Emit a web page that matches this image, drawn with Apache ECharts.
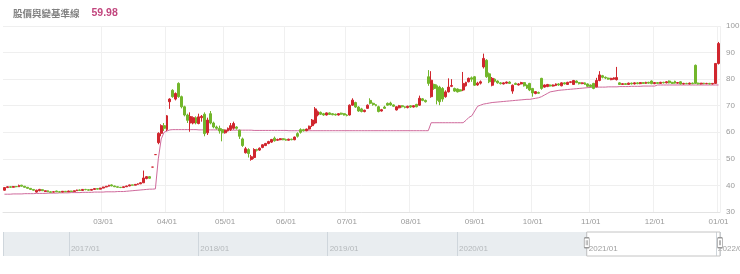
<!DOCTYPE html>
<html><head><meta charset="utf-8">
<script src="https://cdn.jsdelivr.net/npm/echarts@6/dist/echarts.min.js"></script>
<style>html,body{margin:0;padding:0;background:#fff}#c{width:740px;height:274px}</style>
</head><body><div id="c"></div>
<script>
// ---------- text ----------
const titleText = '股價與變基準線';
const titleValue = '59.98';

// ---------- categories (trading days) ----------
const startDate = '2020-12-31';
const endDate = '2022-01-03';
const holidays = ['2021-01-01','2021-02-08','2021-02-09','2021-02-10','2021-02-11','2021-02-12',
  '2021-02-15','2021-02-16','2021-03-01','2021-04-02','2021-04-05','2021-06-14',
  '2021-09-20','2021-09-21','2021-10-11','2021-12-31'];
const tickDates = ['2021-03-02','2021-04-01','2021-05-03','2021-06-01','2021-07-01','2021-08-02',
  '2021-09-01','2021-10-01','2021-11-01','2021-12-01','2022-01-03'];
const tickLabels = ['03/01','04/01','05/01','06/01','07/01','08/01','09/01','10/01','11/01','12/01','01/01'];

// ---------- price candles [open, close, low, high] ----------
const dec20 = [[38.2,39.2,38.0,39.4]];
const jan21 = [[39.2,39.5,39.0,39.7],[39.5,39.3,39.1,39.7],[39.3,39.6,39.2,39.8],[39.6,39.5,39.3,39.8],
  [39.5,40.0,39.4,40.3],[40.1,39.7,39.6,40.2],[39.7,39.3,39.2,39.8],[39.3,38.9,38.8,39.4],[38.9,38.5,38.3,39.0],
  [38.5,38.2,38.0,38.6],[37.5,38.2,37.3,38.4],[38.0,38.5,37.8,38.7],[38.4,38.0,37.9,38.6],[37.7,38.0,37.5,38.1],
  [38.0,37.6,37.5,38.1],[37.6,37.4,37.3,37.8],[37.5,37.6,37.4,37.8],[37.9,37.6,37.5,38.0],[37.6,37.5,37.4,37.8],
  [37.5,37.8,37.4,37.9]];
const feb21 = [[37.8,37.6,37.5,37.9],[37.6,37.9,37.5,38.0],[37.9,37.7,37.6,38.0],[37.7,38.0,37.6,38.1],
  [38.0,38.3,37.9,38.4],[38.3,38.1,38.0,38.5],[38.1,38.5,38.0,38.6],[38.5,38.4,38.2,38.7],[38.4,38.2,38.1,38.5],
  [38.2,38.5,38.1,38.6],[38.5,38.8,38.4,38.9],[38.8,38.6,38.5,38.9],[38.6,39.0,38.5,39.1]];
const mar21 = [[39.0,39.4,38.9,39.5],[39.4,39.7,39.3,39.8],[39.7,40.1,39.6,40.2],[40.2,39.8,39.7,40.4],
  [39.8,39.5,39.4,39.9],[39.5,39.3,39.2,39.6],[39.3,39.2,39.0,39.4],[39.2,39.5,39.1,39.6],[39.5,39.8,39.4,39.9],
  [39.8,40.2,39.7,40.3],[40.2,40.1,39.9,40.3],[40.1,40.4,40.0,40.5],[40.4,40.6,40.3,40.8],[40.6,41.0,40.5,41.2],
  [41.0,42.8,40.9,45.6],[42.6,43.3,42.3,43.5],[43.3,42.7,42.5,43.5],[46.9,46.9,46.9,46.9],[51.6,51.6,51.6,51.6],
  [56.1,59.6,55.5,60.0],[59.6,62.5,58.5,63.0],[62.5,61.5,60.5,63.5]];
const apr21 = [[61.0,66.2,60.5,66.5],[71.5,72.5,68.8,72.8],[75.8,73.4,73.0,76.2],[72.5,74.6,72.0,75.0],
  [78.4,73.4,73.0,78.8],[73.4,69.6,69.0,73.8],[69.6,66.5,66.0,70.0],[66.5,64.5,63.5,67.0],[63.5,65.9,60.2,67.5],
  [63.5,65.5,63.0,66.0],[65.5,63.5,63.0,66.0],[63.3,65.8,63.0,67.0],[65.5,66.0,64.0,66.5],[66.8,59.5,58.5,67.5],
  [59.8,64.6,59.0,65.5],[67.0,63.5,63.0,68.0],[63.5,62.0,61.5,64.0],[62.0,61.5,61.0,62.5],[61.5,60.5,59.5,62.5],
  [61.0,59.8,56.6,61.5]];
const may21 = [[59.8,60.8,59.5,61.0],[60.5,61.5,60.3,61.8],[61.0,62.5,60.5,63.5],[61.5,63.3,61.0,64.0],
  [62.0,61.5,61.0,62.3],[60.8,58.5,57.5,61.0],[57.5,55.0,54.5,58.0],[52.3,53.8,52.0,54.5],[53.5,52.0,50.5,54.0],
  [49.8,50.8,49.3,51.5],[50.5,53.5,50.0,54.0],[53.5,53.2,52.8,53.8],[53.3,54.0,53.0,54.3],[54.3,55.3,54.0,55.5],
  [55.0,55.8,54.8,56.0],[55.8,56.5,55.5,56.8],[56.3,57.3,56.0,57.5],[57.8,56.8,56.5,58.4],[57.0,57.3,56.8,57.6],
  [57.2,57.6,57.0,57.8],[57.6,57.2,57.0,57.8]];
const jun21 = [[57.3,57.0,56.8,57.6],[57.0,57.4,56.9,57.6],[57.4,57.2,57.0,57.6],[57.2,58.2,57.0,58.4],
  [59.5,58.5,58.0,60.0],[61.0,60.0,59.5,61.5],[61.0,60.6,60.3,61.3],[60.6,61.2,60.4,61.4],[61.2,62.3,61.0,62.5],
  [62.5,64.6,62.0,65.0],[63.5,68.8,63.0,69.5],[66.5,67.7,66.0,68.2],[67.5,66.8,66.5,67.8],[67.0,66.5,66.2,67.3],
  [66.5,67.3,66.3,67.5],[67.3,66.7,66.5,67.5],[67.0,66.6,66.4,67.2],[66.8,66.5,66.3,67.0],[66.5,67.0,66.3,67.2],
  [67.2,66.8,66.6,67.4],[67.0,66.5,66.3,67.2]];
const jul21 = [[66.5,66.3,66.0,66.8],[66.5,70.2,66.3,70.5],[70.2,72.1,70.0,72.8],[71.2,69.5,69.2,71.5],
  [69.5,68.0,67.7,69.8],[68.8,67.8,67.5,69.2],[67.8,68.3,67.5,68.5],[69.0,70.2,68.8,70.5],[72.0,70.9,70.5,72.8],
  [70.9,70.4,70.0,71.2],[70.4,70.0,69.8,70.6],[69.6,67.8,67.5,70.0],[68.0,68.5,67.8,68.8],[69.5,69.0,68.8,70.0],
  [70.9,70.2,70.0,71.2],[71.0,70.3,70.0,71.5],[70.3,69.8,69.5,70.5],[68.4,69.6,68.2,69.8],[69.2,70.0,69.0,70.3],
  [70.0,69.6,69.3,70.2],[69.6,69.3,69.0,69.8],[69.3,69.8,69.0,70.0]];
const aug21 = [[70.0,69.5,69.2,70.2],[69.5,70.0,69.3,70.2],[70.5,69.6,69.4,70.7],[70.2,72.8,70.0,73.8],
  [72.6,72.0,71.7,72.9],[72.0,71.5,71.2,72.3],[80.9,78.4,77.5,83.4],[73.4,79.6,73.0,83.0],[78.0,76.5,76.0,78.3],
  [77.5,72.0,70.5,78.0],[77.0,71.5,70.2,77.5],[76.5,72.5,71.5,77.0],[73.4,75.2,73.0,75.8],[75.2,77.0,75.0,80.3],
  [77.3,77.6,77.0,80.0],[76.5,75.5,75.2,76.8],[76.3,75.2,75.0,76.5],[76.0,75.5,75.2,76.2],[75.9,78.4,75.5,82.7],
  [77.5,78.8,77.2,79.0],[79.0,80.3,78.8,80.6],[80.5,80.0,79.0,81.0]];
const sep21 = [[80.9,77.7,77.5,81.2],[77.8,78.5,77.5,79.0],[78.5,79.0,78.0,79.5],[84.6,87.8,84.0,89.6],
  [87.1,80.9,80.5,87.5],[82.0,79.0,78.5,82.5],[77.7,80.3,77.3,80.8],[80.0,79.2,78.8,80.3],[79.3,78.6,78.3,79.5],
  [78.6,78.3,78.0,78.9],[78.2,78.6,78.0,78.8],[78.5,78.9,78.3,79.1],[78.9,78.4,78.2,79.2],[75.5,77.7,74.5,78.0],
  [78.4,78.0,77.8,78.7],[77.8,78.2,77.6,78.5],[78.2,78.7,78.0,79.0],[78.7,77.5,77.2,78.9],[77.8,76.6,76.3,78.0],
  [78.4,75.9,75.5,78.6]];
const oct21 = [[76.5,74.8,73.4,76.7],[74.6,75.3,74.3,75.5],[75.0,74.7,74.5,75.3],[80.3,76.5,76.0,80.5],
  [77.0,77.8,76.8,78.0],[77.2,78.0,77.0,78.2],[77.8,77.4,77.2,78.0],[77.4,77.8,77.2,78.0],[77.6,78.2,77.4,78.4],
  [78.2,77.8,77.5,78.5],[77.5,78.6,77.3,78.8],[78.6,78.2,78.0,78.8],[78.0,78.8,77.8,79.0],[78.8,79.0,78.5,79.2],
  [78.0,79.5,77.8,79.7],[79.3,78.7,78.5,79.5],[78.7,78.3,78.0,78.9],[78.3,78.6,78.1,78.8],[78.6,78.0,77.8,78.8],
  [78.2,77.3,77.0,78.4]];
const nov21 = [[77.8,77.2,76.9,78.0],[78.4,76.5,76.2,78.6],[77.1,79.5,76.9,80.5],[79.5,81.6,79.2,83.0],
  [81.3,80.7,80.3,81.6],[80.7,80.4,80.0,81.0],[80.4,80.0,79.8,80.6],[79.8,80.3,79.6,80.5],[80.0,80.5,79.8,80.7],
  [79.8,80.6,79.5,84.6],[78.6,78.0,77.8,78.8],[78.0,78.3,77.8,78.5],[78.3,78.0,77.8,78.5],[78.0,78.5,77.8,78.7],
  [78.5,78.2,78.0,78.7],[78.2,78.6,78.0,78.8],[78.6,78.3,78.1,78.8],[78.3,78.7,78.1,78.9],[78.7,78.4,78.2,78.9],
  [78.4,78.8,78.2,79.0],[78.8,78.5,78.3,79.0],[79.3,78.3,78.1,79.5]];
const dec21 = [[78.3,78.7,78.1,78.9],[78.7,78.4,78.2,78.9],[78.4,78.8,78.2,79.0],[78.8,78.6,78.4,79.0],
  [78.6,79.0,78.4,79.2],[79.3,78.6,78.4,79.5],[78.8,78.4,78.2,79.0],[79.2,78.5,78.3,79.4],[78.5,78.7,78.3,78.9],
  [79.0,78.2,78.0,79.2],[78.2,78.4,78.0,78.6],[78.4,78.3,78.1,78.6],[78.2,78.5,78.0,78.7],[78.5,78.3,78.1,78.7],
  [85.2,78.4,78.2,85.5],[78.5,78.2,78.0,78.7],[78.2,78.5,78.0,78.6],[78.5,78.3,78.1,78.6],[78.3,78.4,78.1,78.6],
  [78.4,78.2,78.0,78.6],[78.2,78.4,78.0,78.5],[78.4,85.9,78.2,86.0]];
const jan22 = [[85.9,93.4,85.5,94.0]];

// ---------- baseline (pink line), one value per trading day ----------
const baseQ1 = [36.7,36.7,36.7,36.8,36.8,36.8,36.8,36.9,36.9,36.9,
  36.9,37.0,37.0,37.0,37.0,37.1,37.1,37.1,37.1,37.2,
  37.2,37.2,37.2,37.3,37.3,37.3,37.3,37.4,37.4,37.4,
  37.4,37.5,37.5,37.5,37.5,37.6,37.6,37.6,37.6,37.7,
  37.7,37.7,37.8,37.9,38.0,38.1,38.2,38.3,38.4,38.5,
  38.6,38.6,38.7,50.0,57.5,60.0];
const baseQ2 = [60.5,60.9,61.0,61.0,61.0,61.0,61.0,61.0,61.0,61.0,
  61.0,60.9,60.9,60.9,60.9,60.9,60.9,60.9,60.9,60.9,
  60.8,60.8,60.8,60.8,60.8,60.8,60.8,60.8,60.8,60.8,
  60.7,60.7,60.7,60.7,60.7,60.7,60.7,60.7,60.7,60.7,
  60.7,60.7,60.6,60.6,60.6,60.6,60.6,60.6,60.6,60.6,
  60.6,60.6,60.6,60.6,60.6,60.6,60.6,60.6,60.6,60.6,
  60.6,60.6,60.6,60.6,60.6,60.6,60.6,60.6,60.6,60.6,
  60.6,60.6,60.6,60.6,60.6,60.6,60.6,60.6,60.6,60.6,
  60.6,60.6,60.6,60.6,60.6,60.6,60.6,60.6,60.6,60.6,60.6];
const baseQ3 = [63.6,63.6,63.6,63.6,63.6,63.6,63.6,63.6,63.6,63.6,63.6,63.6,
  64.5,65.6,66.2,68.0,69.8,70.2,
  70.6,70.8,71.0,71.2,71.3,71.4,71.5,71.6,71.7,71.8,71.9,72.0,72.1,72.2,72.3,72.4];
const baseQ4 = [72.4,72.6,72.8,73.0,73.4,74.0,74.6,75.2,75.4,75.6,75.8,75.9,76.0,76.1,76.2,76.3,76.4,76.5,76.6,76.7,76.8,
  76.9,76.9,77.0,77.0,77.0,77.0,77.1,77.1,77.1,77.1,77.2,77.2,77.2,77.2,77.3,77.3,77.3,77.3,77.4,77.4,77.4,77.4,
  77.4,
  77.8,77.8,77.8,77.8,77.8,77.8,77.8,77.8,77.8,77.8,77.8,77.8,77.8,77.8,77.8,77.8,77.8,77.8,77.8,77.8,77.8,77.8];

// ---------- navigator ----------
const navMin = '2016-06-29';
const navMax = '2022-01-12';
const selStart = '2021-01-01';

// ---------- build ----------
function tradingDays(){
  const out = [];
  let t = Date.parse(startDate + 'T00:00:00Z');
  const end = Date.parse(endDate + 'T00:00:00Z');
  while (t <= end) {
    const d = new Date(t);
    const wd = d.getUTCDay();
    const s = d.toISOString().slice(0, 10);
    if (wd !== 0 && wd !== 6 && holidays.indexOf(s) < 0) out.push(s);
    t += 86400000;
  }
  return out;
}
const dates = tradingDays();
const candles = [].concat(dec20, jan21, feb21, mar21, apr21, may21, jun21, jul21, aug21, sep21, oct21, nov21, dec21, jan22);
const baseline = [].concat(baseQ1, baseQ2, baseQ3, baseQ4);

const isTick = (idx, val) => tickDates.indexOf(val) >= 0;
const gridL = 3, gridR = 20;

const chart = echarts.init(document.getElementById('c'), null, {renderer: 'canvas'});
chart.setOption({
  animation: false,
  backgroundColor: '#fff',
  textStyle: {fontFamily: 'Liberation Sans, Arial, sans-serif'},
  title: {
    text: '{a|' + titleText + '}{b|' + titleValue + '}',
    left: 8, top: 3,
    textStyle: {
      rich: {
        a: {fontSize: 9.5, color: '#808080', fontFamily: 'Noto Sans CJK TC'},
        b: {fontSize: 10.5, color: '#c2467e', padding: [0, 0, 0, 12], fontFamily: 'Liberation Sans'}
      }
    }
  },
  grid: [
    {left: gridL, right: gridR, top: 26, bottom: 62, outerBoundsMode: 'none', containLabel: false},
    {left: gridL, right: gridR, top: 232, height: 24, outerBoundsMode: 'none', containLabel: false}
  ],
  xAxis: [
    {
      type: 'category', gridIndex: 0, data: dates, boundaryGap: true,
      axisLine: {lineStyle: {color: '#e3e3e3'}},
      axisTick: {show: false},
      axisLabel: {
        interval: isTick, color: '#9a9a9a', fontSize: 8, margin: 6,
        formatter: v => tickLabels[tickDates.indexOf(v)] || ''
      },
      splitLine: {show: true, interval: isTick, lineStyle: {color: '#f0f0f0'}}
    },
    {
      type: 'time', gridIndex: 1, min: navMin, max: navMax, position: 'top',
      minInterval: 300 * 86400000, maxInterval: 400 * 86400000,
      axisLine: {show: false}, axisTick: {show: false},
      axisLabel: {
        inside: true, margin: 13, align: 'left', color: '#a0a0a0', fontSize: 8, padding: [0, 0, 0, 2],
        hideOverlap: false,
        formatter: v => new Date(v).getFullYear() + '/01'
      },
      splitLine: {show: true, lineStyle: {color: '#cfd5da'}}
    }
  ],
  yAxis: [
    {
      type: 'value', gridIndex: 0, position: 'right', min: 30, max: 100, interval: 10,
      axisLine: {show: false}, axisTick: {show: false},
      axisLabel: {color: '#9a9a9a', fontSize: 8, margin: 6},
      splitLine: {lineStyle: {color: '#efefef'}}
    },
    {type: 'value', gridIndex: 1, min: 0, max: 1, show: false}
  ],
  series: [
    {
      name: 'baseline', type: 'line', xAxisIndex: 0, yAxisIndex: 0, data: baseline,
      showSymbol: false, symbol: 'none', z: 2,
      lineStyle: {color: '#cf6a9c', width: 1}
    },
    {
      name: 'price', type: 'candlestick', xAxisIndex: 0, yAxisIndex: 0, data: candles, z: 3,
      barWidth: 2.4,
      itemStyle: {color: '#d0262e', color0: '#72b62b', borderColor: '#d0262e', borderColor0: '#72b62b', borderWidth: 1}
    },
    {
      name: 'nav', type: 'line', xAxisIndex: 1, yAxisIndex: 1,
      data: [[navMin, 0.5], [navMax, 0.5]], symbol: 'none', silent: true,
      lineStyle: {opacity: 0},
      markArea: {
        silent: true,
        data: [
          [{xAxis: navMin, itemStyle: {color: 'rgba(206,215,222,0.45)'}}, {xAxis: selStart}],
          [{xAxis: selStart, itemStyle: {color: 'rgba(255,255,255,0)', borderColor: '#c4c4c4', borderWidth: 1}}, {xAxis: navMax}]
        ]
      },
      markPoint: {
        silent: true,
        symbol: 'path://M1,0 H5 Q6,0 6,1 V11 Q6,12 5,12 H1 Q0,12 0,11 V1 Q0,0 1,0 Z M2.3,3 V9 M3.7,3 V9',
        symbolSize: [5, 10],
        itemStyle: {color: '#fff', borderColor: '#999', borderWidth: 1},
        label: {show: false},
        data: [{coord: [selStart, 0.55]}, {coord: [navMax, 0.55]}]
      }
    }
  ]
});
</script>
</body></html>
